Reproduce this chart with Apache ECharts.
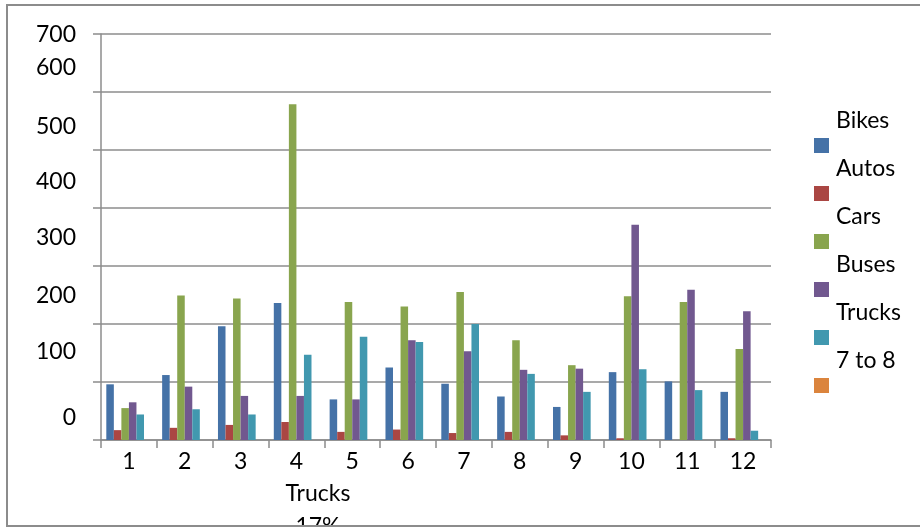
<!DOCTYPE html>
<html>
<head>
<meta charset="utf-8">
<script src="https://cdn.jsdelivr.net/npm/echarts@6/dist/echarts.min.js"></script>
<style>
html,body{margin:0;padding:0;background:#fff;}
#wrap{position:relative;width:920px;height:527px;overflow:hidden;}
#chart{position:absolute;left:0;top:0;width:920px;height:527px;}
#frame{position:absolute;left:6px;top:4px;width:940px;height:519px;border:2px solid #8c8c8c;pointer-events:none;}
</style>
</head>
<body>
<div id="wrap"><div id="chart"></div><div id="frame"></div></div>
<script>
const categories = ['1','2','3','4','5','6','7','8','9','10','11','12'];
const seriesNames = ['Bikes','Autos','Cars','Buses','Trucks','7 to 8'];
const bikes  = [96, 112, 196, 236, 70, 125, 97, 75, 57, 117, 101, 83];
const autos  = [17, 21, 26, 31, 14, 18, 12, 14, 8, 3, 0, 3];
const cars   = [55, 249, 244, 579, 238, 230, 255, 172, 129, 248, 238, 157];
const buses  = [65, 92, 76, 76, 70, 172, 153, 121, 123, 371, 259, 222];
const trucks = [44, 53, 44, 147, 178, 169, 200, 114, 83, 122, 86, 16];
const sevenToEight = [0, 0, 0, 0, 0, 0, 0, 0, 0, 0, 0, 0];
const yTickLabels = ['0','100','200','300','400','500','600','700'];
const stray = ['Trucks', '17%'];

const colors = ['#4572A7','#AA4643','#89A54E','#71588F','#4198AF','#DB843D'];
const values = [bikes, autos, cars, buses, trucks, sevenToEight];
const font = 'Lato, "Open Sans", sans-serif';
const fs = 23;

// vertical shift of each y label (in px, up), reproducing the reference placement
const labelShift = {0: 22, 100: 30, 200: 28, 300: 28, 400: 26, 500: 23, 600: 24, 700: -1};
const rich = {};
Object.keys(labelShift).forEach(function (k) {
  const s = labelShift[k];
  rich['v' + k] = {
    fontSize: fs, fontFamily: font, color: '#000',
    padding: s >= 0 ? [0, 0, 2 * s, 0] : [-2 * s, 0, 0, 0]
  };
});

const chart = echarts.init(document.getElementById('chart'));
chart.setOption({
  animation: false,
  color: colors,
  title: {
    text: stray.join('\n'),
    left: 318, top: 477, padding: 0,
    textAlign: 'center',
    textStyle: {fontFamily: font, fontSize: fs, fontWeight: 'normal', color: '#000', lineHeight: 33}
  },
  legend: {
    orient: 'vertical', left: 814, top: 109.5, padding: 0,
    itemWidth: 15, itemHeight: 15, itemGap: -24, icon: 'rect',
    data: seriesNames,
    formatter: function (n) { return '{t|' + n + '}'; },
    textStyle: {
      fontFamily: font, fontSize: fs, color: '#000',
      rich: {t: {fontFamily: font, fontSize: fs, color: '#000', lineHeight: 24, padding: [0, 0, 49, 2]}}
    }
  },
  grid: {left: 101, right: 149, top: 34, bottom: 87, containLabel: false},
  xAxis: {
    type: 'category', data: categories, boundaryGap: true,
    axisLine: {lineStyle: {color: '#8c8c8c', width: 1.5}},
    axisTick: {show: true, length: 8, inside: false, alignWithLabel: false, lineStyle: {color: '#8c8c8c', width: 1.5}},
    axisLabel: {fontFamily: font, fontSize: fs, color: '#000', margin: 10}
  },
  yAxis: {
    type: 'value', min: 0, max: 700, interval: 100,
    axisLine: {show: true, lineStyle: {color: '#8c8c8c', width: 1.5}},
    axisTick: {show: true, length: 8, lineStyle: {color: '#8c8c8c', width: 1.5}},
    splitLine: {show: true, lineStyle: {color: '#8c8c8c', width: 1.5}},
    axisLabel: {
      margin: 25,
      formatter: function (v) {
        const idx = Math.round(v / 100);
        return '{v' + v + '|' + yTickLabels[idx] + '}';
      },
      rich: rich
    }
  },
  series: seriesNames.map(function (name, i) {
    return {
      name: name, type: 'bar', data: values[i],
      barGap: '0%', barCategoryGap: '19%',
      itemStyle: {color: colors[i]}
    };
  })
});
</script>
</body>
</html>
